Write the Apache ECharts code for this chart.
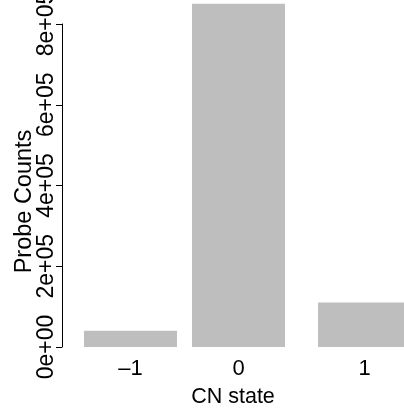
<!DOCTYPE html>
<html>
<head>
<meta charset="utf-8">
<script src="https://cdn.jsdelivr.net/npm/echarts@6/dist/echarts.min.js"></script>
<style>html,body{margin:0;padding:0;background:#fff;}#c{width:404px;height:408px;}</style>
</head>
<body>
<div id="c"></div>
<script>
// Data
const categories = ['\u20131', '0', '1'];
const counts = [40400, 850300, 110500];
const yTickLabels = ['0e+00', '2e+05', '4e+05', '6e+05', '8e+05'];
const xTitle = 'CN state';
const yTitle = 'Probe Counts';

// Layout: bar centres along the x axis (axis units)
const barSlots = [-1, 0, 1.1667];

const FONT = '"Liberation Sans", Arial, Helvetica, sans-serif';
const chart = echarts.init(document.getElementById('c'), null, {renderer: 'canvas'});
chart.setOption({
  animation: false,
  backgroundColor: '#fff',
  grid: {left: 62, right: 0, top: 24, bottom: 61, containLabel: false, outerBoundsMode: 'none'},
  xAxis: {
    type: 'value',
    min: -1.634, max: 1.532,
    name: xTitle, nameLocation: 'middle', nameGap: 39, nameMoveOverlap: false,
    nameTextStyle: {fontSize: 21.5, color: '#000', fontFamily: FONT},
    axisLine: {show: false, onZero: false}, axisTick: {show: false}, splitLine: {show: false},
    axisLabel: {
      customValues: barSlots,
      formatter: v => { const i = barSlots.indexOf(v); return i >= 0 ? categories[i] : ''; },
      fontSize: 22, color: '#000', fontFamily: FONT, margin: 11
    }
  },
  yAxis: {
    type: 'value', min: 0, max: 800000, interval: 200000,
    name: yTitle, nameLocation: 'middle', nameGap: 25, nameMoveOverlap: false,
    nameTextStyle: {fontSize: 23.5, color: '#000', fontFamily: FONT, padding: [0, 32, 0, 0]},
    axisLine: {show: true, onZero: false, lineStyle: {color: '#000', width: 1}},
    axisTick: {show: true, length: 6, lineStyle: {color: '#000', width: 1}},
    splitLine: {show: false},
    axisLabel: {
      rotate: 90, margin: 4,
      formatter: v => yTickLabels[Math.round(v / 200000)],
      fontSize: 23, color: '#000', fontFamily: FONT
    }
  },
  series: [{
    type: 'bar', clip: false, barWidth: 93,
    itemStyle: {color: '#BEBEBE'},
    data: barSlots.map((p, i) => [p, counts[i]])
  }]
});
</script>
</body>
</html>
